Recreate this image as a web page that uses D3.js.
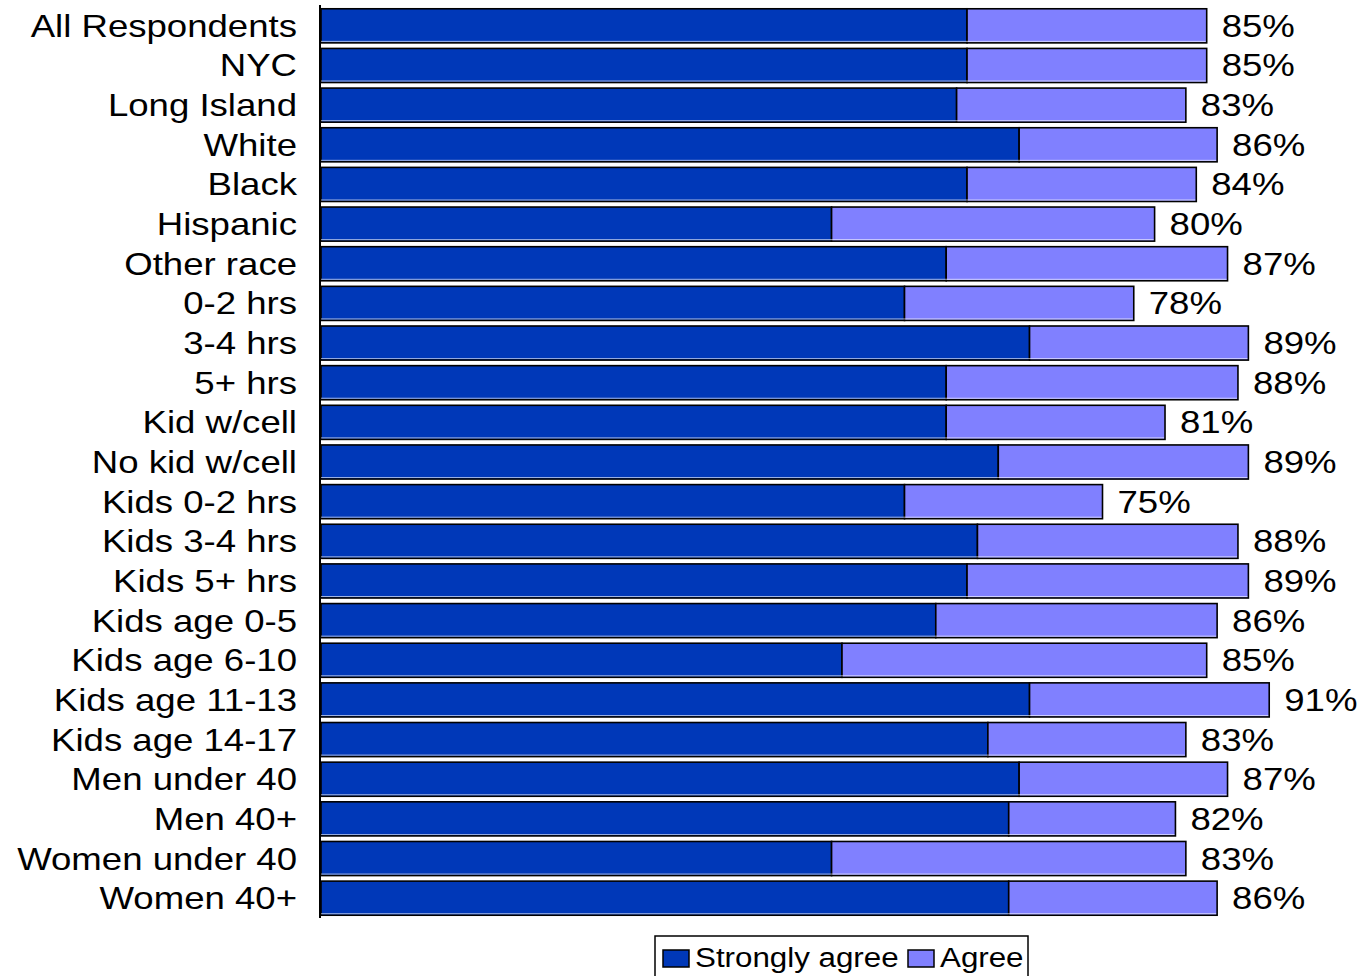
<!DOCTYPE html>
<html>
<head>
<meta charset="utf-8">
<script src="https://cdn.jsdelivr.net/npm/d3@7"></script>
<style>
  html, body { margin: 0; padding: 0; background: #fff; }
  svg { display: block; font-family: "Liberation Sans", Arial, sans-serif; }
</style>
</head>
<body>
<svg id="chart" width="1363" height="976"></svg>
<script>
// Survey groups, top to bottom
const categories = [
  "All Respondents", "NYC", "Long Island", "White", "Black", "Hispanic",
  "Other race", "0-2 hrs", "3-4 hrs", "5+ hrs", "Kid w/cell", "No kid w/cell",
  "Kids 0-2 hrs", "Kids 3-4 hrs", "Kids 5+ hrs", "Kids age 0-5", "Kids age 6-10",
  "Kids age 11-13", "Kids age 14-17", "Men under 40", "Men 40+",
  "Women under 40", "Women 40+"
];
// Percent answering "Strongly agree"
const stronglyAgree = [62, 62, 61, 67, 62, 49, 60, 56, 68, 60, 60, 65, 56, 63, 62, 59, 50, 68, 64, 67, 66, 49, 66];
// Percent answering "Agree"
const agree = [23, 23, 22, 19, 22, 31, 27, 22, 21, 28, 21, 24, 19, 25, 27, 27, 35, 23, 19, 20, 16, 34, 20];
// Combined total shown at the end of each bar
const totalLabels = ["85%", "85%", "83%", "86%", "84%", "80%", "87%", "78%", "89%", "88%", "81%", "89%",
  "75%", "88%", "89%", "86%", "85%", "91%", "83%", "87%", "82%", "83%", "86%"];
const seriesNames = ["Strongly agree", "Agree"];
const colors = ["#0038B8", "#8080FF"];

const svg = d3.select("#chart");
const stretch = 1.18;   // wide lettering

const x = d3.scaleLinear().domain([0, 100]).range([321, 1363]);
const y = d3.scaleBand().domain(categories).range([6, 918]).paddingInner(0.14).paddingOuter(0.07);

const rows = categories.map((c, i) => ({
  cat: c,
  segs: [
    { s: 0, x0: 0, x1: stronglyAgree[i] },
    { s: 1, x0: stronglyAgree[i], x1: stronglyAgree[i] + agree[i] }
  ],
  total: stronglyAgree[i] + agree[i],
  label: totalLabels[i]
}));

const row = svg.selectAll("g.row").data(rows).join("g").attr("class", "row");

row.selectAll("rect").data(d => d.segs.map(s => ({ ...s, cat: d.cat }))).join("rect")
  .attr("x", d => x(d.x0))
  .attr("y", d => y(d.cat))
  .attr("width", d => x(d.x1) - x(d.x0))
  .attr("height", y.bandwidth())
  .attr("fill", d => colors[d.s])
  .attr("stroke", "#000")
  .attr("stroke-width", 1.6);

// thin light edge along the bottom of each bar
row.append("line")
  .attr("x1", x(0)).attr("x2", d => x(d.total) - 1)
  .attr("y1", d => y(d.cat) + y.bandwidth() - 1.5)
  .attr("y2", d => y(d.cat) + y.bandwidth() - 1.5)
  .attr("stroke", "#fff").attr("stroke-width", 0.8).attr("opacity", 0.8);

// category labels
row.append("text")
  .attr("transform", d => `translate(297,${y(d.cat) + y.bandwidth() / 2 + 11}) scale(${stretch},1)`)
  .attr("text-anchor", "end")
  .attr("font-size", 31)
  .attr("fill", "#000")
  .text(d => d.cat);

// totals
row.append("text")
  .attr("transform", d => `translate(${x(d.total) + 15},${y(d.cat) + y.bandwidth() / 2 + 11}) scale(${stretch},1)`)
  .attr("font-size", 31)
  .attr("fill", "#000")
  .text(d => d.label);

// category axis line
const axis = d3.axisLeft(y).tickSize(0).tickFormat("");
svg.append("g")
  .attr("transform", `translate(${x(0) - 1},0)`)
  .call(axis)
  .call(g => g.select(".domain").attr("d", "M0,5V918").attr("stroke", "#000").attr("stroke-width", 2));

// legend
const legend = svg.append("g");
legend.append("rect")
  .attr("x", 655).attr("y", 936).attr("width", 373).attr("height", 60)
  .attr("fill", "#fff").attr("stroke", "#000").attr("stroke-width", 1.5);
const legendPos = [663, 908];
seriesNames.forEach((name, i) => {
  legend.append("rect")
    .attr("x", legendPos[i]).attr("y", 950).attr("width", 26).attr("height", 17)
    .attr("fill", colors[i]).attr("stroke", "#000").attr("stroke-width", 1.5);
  legend.append("text")
    .attr("transform", `translate(${legendPos[i] + 32},967) scale(1.16,1)`)
    .attr("font-size", 27)
    .attr("fill", "#000")
    .text(name);
});
</script>
</body>
</html>
